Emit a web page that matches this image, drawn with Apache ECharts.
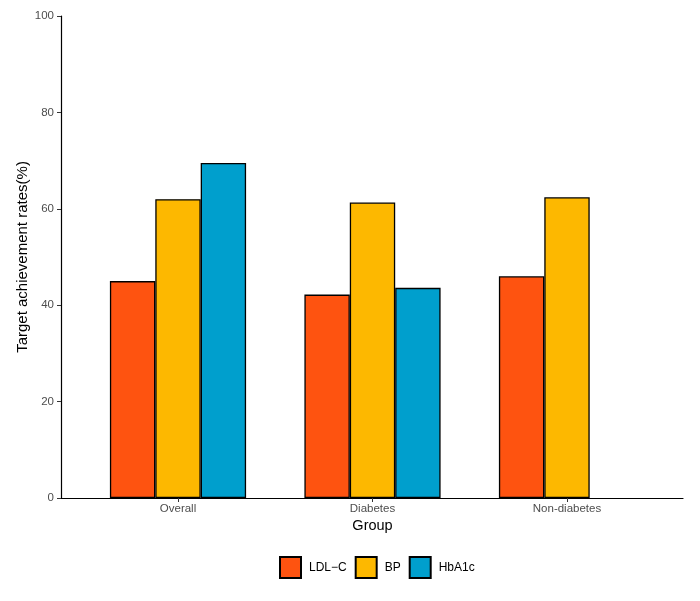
<!DOCTYPE html>
<html><head><meta charset="utf-8">
<script src="https://cdn.jsdelivr.net/npm/echarts@6/dist/echarts.min.js"></script>
<style>html,body{margin:0;padding:0;background:#fff}#c{width:700px;height:601px}</style>
</head><body><div id="c"></div>
<script>
const categories = ['Overall', 'Diabetes', 'Non-diabetes'];
const ldl = [45.0, 42.2, 46.0];
const bp = [62.0, 61.3, 62.4];
const hba1c = [69.5, 43.6, null];
const seriesNames = ['LDL\u2212C', 'BP', 'HbA1c'];
const yTicks = [0, 20, 40, 60, 80, 100];
const colors = ['#FE5310', '#FDB800', '#009FCD'];

const chart = echarts.init(document.getElementById('c'));
const font = 'Liberation Sans, Arial, sans-serif';
function bar(name, data, i) {
  return {
    name: name, type: 'bar', data: data, xAxisIndex: 1, yAxisIndex: 1,
    barWidth: 45.4, barGap: '0%',
    itemStyle: { color: colors[i], borderColor: '#000', borderWidth: 1.3 },
    emphasis: { disabled: true }
  };
}
chart.setOption({
  animation: false,
  backgroundColor: '#fff',
  grid: [
    { left: 61, right: 17, top: 16, bottom: 103 },
    { left: 80.75, right: 35.75, top: 16, bottom: 103 }
  ],
  legend: {
    top: 551, left: 274, itemWidth: 21, itemHeight: 21, itemGap: 8, icon: 'rect',
    textStyle: { fontFamily: font, fontSize: 12, color: '#000', padding: [0, 0, 0, 3] },
    data: seriesNames
  },
  xAxis: [
    { type: 'value', gridIndex: 0, min: 0, max: 1, show: true,
      axisLine: { show: true, onZero: false, lineStyle: { color: '#000', width: 1.2 } },
      axisTick: { show: false }, axisLabel: { show: false }, splitLine: { show: false } },
    { type: 'category', gridIndex: 1, data: categories,
      axisLine: { show: false },
      axisTick: { show: true, alignWithLabel: true, length: 4, lineStyle: { color: '#333' } },
      axisLabel: { fontFamily: font, fontSize: 11.5, color: '#4D4D4D', margin: 5 },
      name: 'Group', nameLocation: 'middle', nameGap: 20, nameMoveOverlap: false,
      nameTextStyle: { fontFamily: font, fontSize: 14.5, color: '#000' } }
  ],
  yAxis: [
    { type: 'value', gridIndex: 0, min: 0, max: 100, interval: 20,
      axisLine: { show: true, lineStyle: { color: '#000', width: 1.2 } },
      axisTick: { show: true, length: 4, lineStyle: { color: '#333' } },
      axisLabel: { fontFamily: font, fontSize: 11.5, color: '#4D4D4D', margin: 7,
        formatter: v => yTicks.includes(v) ? String(v) : '' },
      splitLine: { show: false },
      name: 'Target achievement rates(%)', nameLocation: 'middle', nameGap: 31, nameMoveOverlap: false,
      nameTextStyle: { fontFamily: font, fontSize: 15, color: '#000' } },
    { type: 'value', gridIndex: 1, min: 0, max: 100, interval: 20, show: false }
  ],
  series: [bar(seriesNames[0], ldl, 0), bar(seriesNames[1], bp, 1), bar(seriesNames[2], hba1c, 2)]
});
</script></body></html>
